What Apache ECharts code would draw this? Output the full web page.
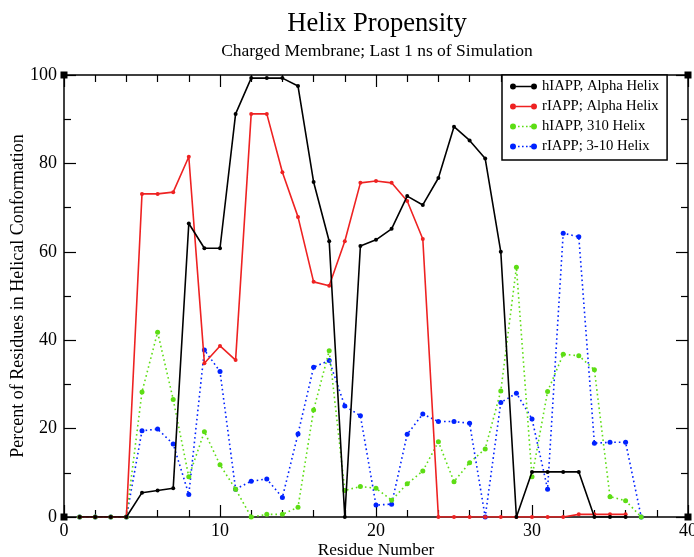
<!DOCTYPE html>
<html>
<head>
<meta charset="utf-8">
<script src="https://cdn.jsdelivr.net/npm/echarts@6/dist/echarts.min.js"></script>
<style>html,body{margin:0;padding:0;background:#fff}#c{width:694px;height:557px}</style>
</head>
<body>
<div id="c"></div>
<script>
const residues = [1,2,3,4,5,6,7,8,9,10,11,12,13,14,15,16,17,18,19,20,21,22,23,24,25,26,27,28,29,30,31,32,33,34,35,36,37];
const hAlpha = [0,0,0,0,5.5,6,6.5,66.4,60.8,60.8,91.2,99.3,99.3,99.3,97.5,75.8,62.4,0,61.3,62.7,65.2,72.6,70.6,76.7,88.3,85.2,81.1,60.0,0,10.2,10.2,10.2,10.2,0,0,0];
const rAlpha = [0,0,0,0,73.1,73.1,73.5,81.5,34.8,38.7,35.5,91.2,91.2,78.0,67.9,53.2,52.3,62.4,75.6,76.0,75.6,71.5,62.9,0,0,0,0,0,0,0,0,0,0.6,0.6,0.6,0.6];
const h310 = [0,0,0,0,28.3,41.8,26.6,9.1,19.3,11.8,6.3,0,0.6,0.6,2.2,24.2,37.6,6.0,6.9,6.5,3.8,7.5,10.4,17.0,8.0,12.3,15.4,28.5,56.5,9.1,28.4,36.8,36.5,33.3,4.6,3.7,0];
const r310 = [0,0,0,0,19.5,19.9,16.5,5.1,37.8,32.9,6.3,8.1,8.6,4.4,18.8,33.9,35.4,25.1,22.9,2.7,2.9,18.7,23.3,21.6,21.6,21.2,0,25.9,28.0,22.2,6.3,64.2,63.4,16.7,16.9,16.9,0];
const seriesNames = ['hIAPP, Alpha Helix','rIAPP; Alpha Helix','hIAPP, 310 Helix','rIAPP; 3-10 Helix'];
const xTicks = [0,10,20,30,40];
const yTicks = [0,20,40,60,80,100];

const FONT = '"Liberation Serif","DejaVu Serif",serif';
const pair = (ys) => ys.map((v,i)=>[residues[i], v]);

const solidIcon = 'path://M0,3a3,3 0 1,0 6,0a3,3 0 1,0 -6,0z M6,2.3h15v1.4h-15z M21,3a3,3 0 1,0 6,0a3,3 0 1,0 -6,0z';
const dotIcon = 'path://M0,3a3,3 0 1,0 6,0a3,3 0 1,0 -6,0z M8,2.2h1.6v1.6h-1.6z M12,2.2h1.6v1.6h-1.6z M16,2.2h1.6v1.6h-1.6z M19.5,2.2h1.6v1.6h-1.6z M21,3a3,3 0 1,0 6,0a3,3 0 1,0 -6,0z';

const colors = ['#000000','#ee2222','#5ddd14','#0022ff'];

const chart = echarts.init(document.getElementById('c'));
const axisCommon = {
  min: 0,
  axisLine: {show: true, onZero: false, lineStyle: {color: '#000', width: 1.5}},
  axisTick: {show: true, inside: true, length: 12, lineStyle: {color: '#000', width: 1.2}},
  minorTick: {show: true, length: 7, lineStyle: {color: '#000', width: 1.2}},
  splitLine: {show: false},
};
function mkSeries(i, data, dotted) {
  return {
    name: seriesNames[i], type: 'line', data: pair(data),
    symbol: 'circle', symbolSize: dotted ? 5 : 4,
    showSymbol: true,
    itemStyle: {color: colors[i]},
    lineStyle: {color: colors[i], width: 1.6, type: dotted ? [1.6, 3] : 'solid'},
    emphasis: {disabled: true}, animation: false, z: 10 - i
  };
}
chart.setOption({
  animation: false,
  backgroundColor: '#fff',
  title: [
    {text: 'Helix Propensity', left: 377, textAlign: 'center', top: 11, padding: 0,
     textStyle: {fontFamily: FONT, fontSize: 26.6, fontWeight: 'normal', color: '#000'}},
    {text: 'Charged Membrane; Last 1 ns of Simulation', left: 377, textAlign: 'center', top: 42, padding: 0,
     textStyle: {fontFamily: FONT, fontSize: 17.5, fontWeight: 'normal', color: '#000'}}
  ],
  grid: {left: 64, right: 6, top: 75, bottom: 40, containLabel: false, outerBoundsMode: 'none'},
  legend: {
    orient: 'vertical', left: 502, top: 75,
    padding: [4, 8, 6, 8], itemGap: 5, itemWidth: 27, itemHeight: 6,
    borderColor: '#000', borderWidth: 1.5, backgroundColor: '#fff',
    textStyle: {fontFamily: FONT, fontSize: 14.7, color: '#000', lineHeight: 14.5},
    data: seriesNames.map((n,i)=>({name: n, icon: i < 2 ? solidIcon : dotIcon})),
    selectedMode: false
  },
  xAxis: [
    Object.assign({}, axisCommon, {type: 'value', position: 'bottom', max: 40, interval: 10,
      minorTick: Object.assign({}, axisCommon.minorTick, {splitNumber: 5}),
      name: 'Residue Number', nameLocation: 'middle', nameGap: 25, nameMoveOverlap: false,
      nameTextStyle: {fontFamily: FONT, fontSize: 17.3, color: '#000'},
      axisLabel: {fontFamily: FONT, fontSize: 18, color: '#000', margin: 5,
        formatter: v => xTicks.includes(v) ? String(v) : ''}}),
    Object.assign({}, axisCommon, {type: 'value', position: 'top', max: 40, interval: 10,
      minorTick: Object.assign({}, axisCommon.minorTick, {splitNumber: 5}),
      axisLabel: {show: false}})
  ],
  yAxis: [
    Object.assign({}, axisCommon, {type: 'value', position: 'left', max: 100, interval: 20,
      minorTick: Object.assign({}, axisCommon.minorTick, {splitNumber: 2}),
      name: 'Percent of Residues in Helical Conformation', nameLocation: 'middle', nameGap: 37, nameMoveOverlap: false,
      nameTextStyle: {fontFamily: FONT, fontSize: 18, color: '#000'},
      axisLabel: {fontFamily: FONT, fontSize: 18, color: '#000', margin: 7,
        formatter: v => yTicks.includes(v) ? String(v) : ''}}),
    Object.assign({}, axisCommon, {type: 'value', position: 'right', max: 100, interval: 20,
      minorTick: Object.assign({}, axisCommon.minorTick, {splitNumber: 2}),
      axisLabel: {show: false}})
  ],
  series: [
    mkSeries(0, hAlpha, false),
    mkSeries(1, rAlpha, false),
    mkSeries(2, h310, true),
    mkSeries(3, r310, true)
  ]
});

// corner squares (xmgrace-style decorations), positioned via the axes
const corners = [[0,100],[40,100],[0,0],[40,0]];
chart.setOption({
  graphic: corners.map(c => {
    const p = chart.convertToPixel({xAxisIndex: 0, yAxisIndex: 0}, c);
    return {type: 'rect', shape: {x: p[0]-3.5, y: p[1]-3.5, width: 7, height: 7}, style: {fill: '#000'}, z: 100};
  })
});
</script>
</body>
</html>
